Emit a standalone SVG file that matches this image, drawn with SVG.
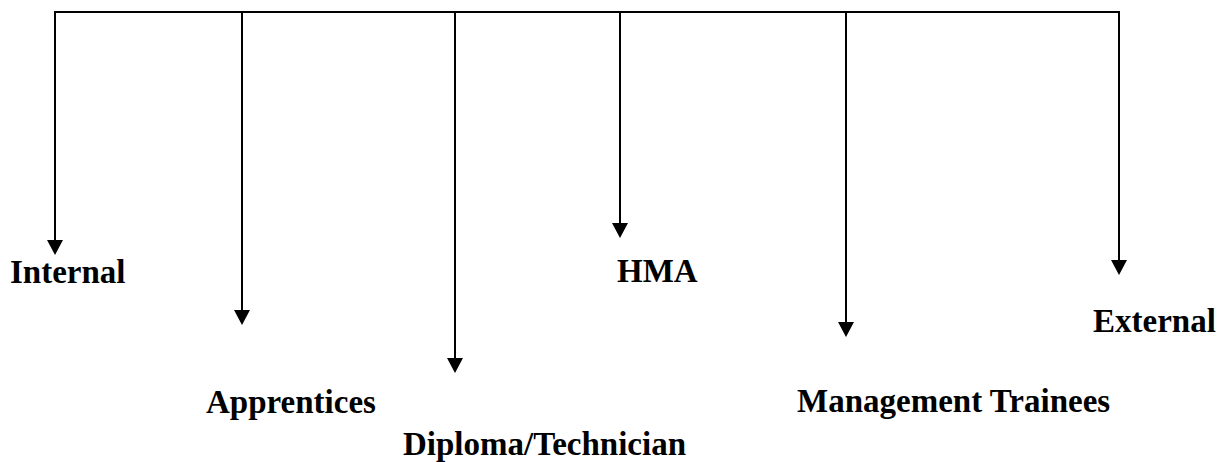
<svg xmlns="http://www.w3.org/2000/svg" width="1222" height="462" viewBox="0 0 1222 462">
<defs>
<style>
.c{stroke:#000;stroke-width:2;fill:none}
.h{fill:#000}
.t{font-family:"Liberation Serif","Times New Roman",serif;font-weight:bold;font-size:33px;fill:#000}
</style>
</defs>
<rect width="1222" height="462" fill="#fff"/>
<g id="connectors">
<polyline class="c" points="55,242 55,12 1119,12 1119,262"/>
<line class="c" x1="242" y1="12" x2="242" y2="312"/>
<line class="c" x1="455" y1="12" x2="455" y2="360"/>
<line class="c" x1="620" y1="12" x2="620" y2="225"/>
<line class="c" x1="846" y1="12" x2="846" y2="324"/>
<polygon class="h" points="47,240 63,240 55,255"/>
<polygon class="h" points="234,310 250,310 242,325"/>
<polygon class="h" points="447,358 463,358 455,373"/>
<polygon class="h" points="612,223 628,223 620,238"/>
<polygon class="h" points="838,322 854,322 846,337"/>
<polygon class="h" points="1111,260 1127,260 1119,275"/>
</g>
<g id="internal"><text class="t" x="10" y="283">Internal</text></g>
<g id="apprentices"><text class="t" x="206" y="413">Apprentices</text></g>
<g id="diploma"><text class="t" x="403" y="455">Diploma/Technician</text></g>
<g id="hma"><text class="t" x="617" y="282">HMA</text></g>
<g id="management"><text class="t" x="797" y="412">Management Trainees</text></g>
<g id="external"><text class="t" x="1093" y="332">External</text></g>
</svg>
